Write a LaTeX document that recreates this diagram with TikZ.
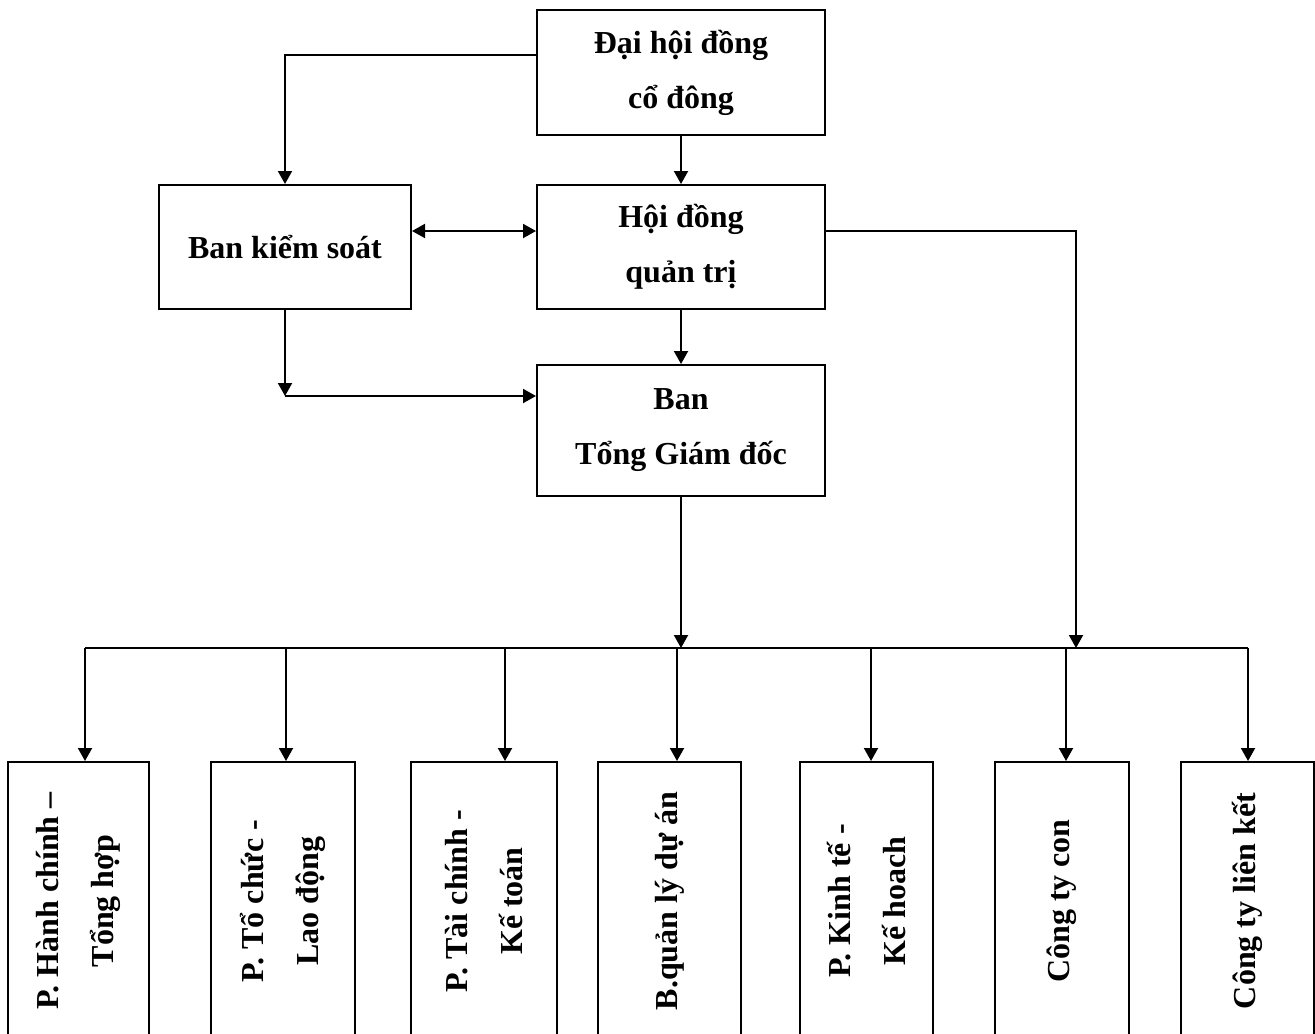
\documentclass[tikz,border=0pt]{standalone}
\usepackage{fontspec}
\setmainfont{Liberation Serif}
\usetikzlibrary{positioning, arrows.meta}

\begin{document}
\begin{tikzpicture}[
    x=0.5pt, y=-0.5pt,
    line width=1pt,
    block/.style={rectangle, draw, minimum width=144pt, minimum height=62.5pt, inner sep=0pt, align=center, font=\fontsize{16}{27.5}\selectfont\bfseries},
    unit/.style={rectangle, draw, minimum height=139pt, inner sep=0pt},
    vtext/.style={rotate=90, align=center, font=\fontsize{16}{27.5}\selectfont\bfseries},
    arrow/.style={-{Triangle[length=6.5pt, width=7pt]}},
    both/.style={{Triangle[length=6.5pt, width=7pt]}-{Triangle[length=6.5pt, width=7pt]}},
]

\useasboundingbox (0,0) rectangle (1315,1033);

% General meeting
\node[block] (dhcd) at (681,72.5) {Đại hội đồng\\cổ đông};

% Board
\node[block, minimum height=62pt, below=24pt of dhcd] (hdqt) {Hội đồng\\quản trị};

% Supervisory board
\node[block, minimum width=126pt, minimum height=62pt, left=62pt of hdqt] (bks) {Ban kiểm soát};

% Executive board
\node[block, minimum height=65.5pt, below=27pt of hdqt] (btgd) {Ban\\Tổng Giám đốc};

% Arrows
\draw[arrow] (dhcd) -- (hdqt);
\draw[arrow] (hdqt) -- (btgd);
\draw[arrow] ([yshift=8.75pt]dhcd.west) -| (bks.north);
\draw[both] ([yshift=8pt]bks.east) -- ([yshift=8pt]hdqt.west);

\coordinate (k1) at (bks.south |- 0,396);
\draw[arrow] (bks.south) -- (k1);
\draw[arrow] (k1) -- (k1 -| btgd.west);

% Bus to departments
\coordinate (busL) at (85,648);
\coordinate (busR) at (1248,648);
\coordinate (hr) at (1076,648);
\draw (busL) -- (busR);
\draw[arrow] (btgd.south) -- (btgd.south |- busL);
\draw[arrow] ([yshift=8pt]hdqt.east) -| (hr);

% Departments
\foreach \name/\cx/\w/\ax/\txt in {
    p1/78.5/70.5/85/{P. Hành chính –\\Tổng hợp},
    p2/283/72/286/{P. Tổ chức -\\Lao động},
    p3/484/73/505/{P. Tài chính -\\Kế toán},
    p4/669.5/71.5/677/{B.quản lý dự án},
    p5/866.5/66.5/871/{P. Kinh tế -\\Kế hoach},
    p6/1062/67/1066/{Công ty con},
    p7/1247.5/66.5/1248/{Công ty liên kết}} {
    \node[unit, minimum width=\w pt] (\name) at (\cx,901) {};
    \node[vtext] at (\name) {\txt};
    \coordinate (d\name) at (\ax,648);
    \draw[arrow] (d\name) -- (d\name |- \name.north);
}

\end{tikzpicture}
\end{document}
